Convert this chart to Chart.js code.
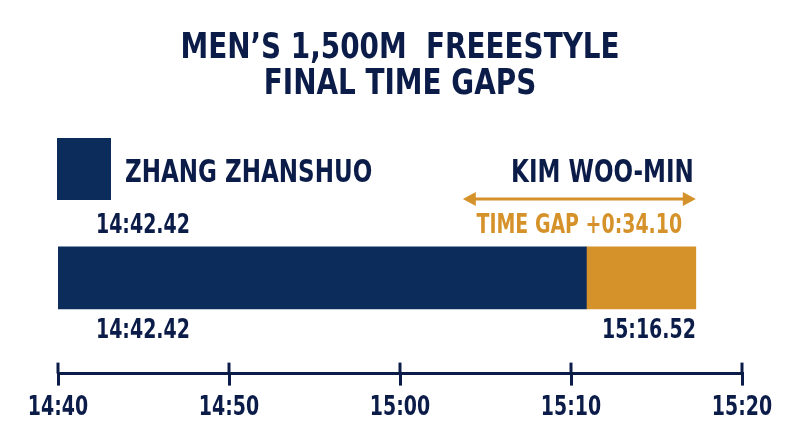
<!DOCTYPE html>
<html>
<head>
<meta charset="utf-8">
<script src="https://cdn.jsdelivr.net/npm/chart.js@4"></script>
<style>
  html, body { margin: 0; padding: 0; background: #ffffff; }
  #wrap { width: 800px; height: 447px; }
</style>
</head>
<body>
<div id="wrap"><canvas id="gapChart"></canvas></div>
<script>
// data (seconds since 0:00)
const tickLabels = ['14:40', '14:50', '15:00', '15:10', '15:20'];
const swimmers = ['ZHANG ZHANSHUO', 'KIM WOO-MIN'];
const finishLabels = ['14:42.42', '15:16.52'];
const gapLabel = 'TIME GAP +0:34.10';
const axisMin = 880;   // 14:40
const axisMax = 920;   // 15:20
const navyBar = [880, 910.9];
const goldBar = [910.9, 917.3];

const NAVY = '#0c2c5c';
const INK = '#0b1c48';
const GOLD = '#d6922a';
const FONT = "'DejaVu Sans Condensed', 'DejaVu Sans', sans-serif";

function fmt(sec) {
    const m = Math.floor(sec / 60);
    const s = Math.round(sec - m * 60);
    return m + ':' + (s < 10 ? '0' + s : s);
}

// no narrow heavy font installed: squeeze every text draw sideways
const canvas = document.getElementById('gapChart');
const ctx2d = canvas.getContext('2d');
const rawFillText = ctx2d.fillText;
ctx2d.fillText = function(text, x, y, maxW) {
    const m = /(\d+(?:\.\d+)?)px/.exec(this.font);
    const size = m ? +m[1] : 12;
    const k = size >= 34 ? 0.86 : (size >= 30 ? 0.8 : 0.78);
    this.save();
    this.translate(x, y);
    this.scale(k, 1);
    if (maxW !== undefined) rawFillText.call(this, text, 0, 0, maxW / k);
    else rawFillText.call(this, text, 0, 0);
    this.restore();
};

// labels, legend swatch, arrow and axis crosses
const annotate = {
    id: 'annotate',
    afterDraw(chart) {
        const ctx = chart.ctx;
        const x = chart.scales.x;
        const area = chart.chartArea;
        const end = x.getPixelForValue(goldBar[1]);
        ctx.save();

        // upper half of the axis ticks
        ctx.strokeStyle = INK;
        ctx.lineWidth = 3;
        x.ticks.forEach(t => {
            const px = x.getPixelForValue(t.value);
            ctx.beginPath();
            ctx.moveTo(px, area.bottom - 11);
            ctx.lineTo(px, area.bottom);
            ctx.stroke();
        });

        // legend swatch + names
        ctx.fillStyle = NAVY;
        ctx.fillRect(area.left - 1, 138, 54, 62);
        ctx.fillStyle = INK;
        ctx.font = 'bold 32px ' + FONT;
        ctx.textBaseline = 'alphabetic';
        ctx.textAlign = 'left';
        ctx.fillText(swimmers[0], 125, 182);
        ctx.textAlign = 'right';
        ctx.fillText(swimmers[1], end - 2, 182);

        // finish times
        ctx.font = 'bold 27px ' + FONT;
        ctx.textAlign = 'left';
        ctx.fillText(finishLabels[0], 96, 233);
        ctx.fillText(finishLabels[0], 96, 338);
        ctx.textAlign = 'right';
        ctx.fillText(finishLabels[1], end, 338);

        // gap arrow
        const aL = end - 233, aR = end, ay = 199;
        ctx.strokeStyle = GOLD;
        ctx.fillStyle = GOLD;
        ctx.lineWidth = 3;
        ctx.beginPath();
        ctx.moveTo(aL + 8, ay);
        ctx.lineTo(aR - 8, ay);
        ctx.stroke();
        ctx.beginPath();
        ctx.moveTo(aL, ay); ctx.lineTo(aL + 13, ay - 7); ctx.lineTo(aL + 13, ay + 7); ctx.closePath();
        ctx.fill();
        ctx.beginPath();
        ctx.moveTo(aR, ay); ctx.lineTo(aR - 13, ay - 7); ctx.lineTo(aR - 13, ay + 7); ctx.closePath();
        ctx.fill();

        ctx.textAlign = 'center';
        ctx.fillText(gapLabel, (aL + aR) / 2, 233);
        ctx.restore();
    }
};

new Chart(canvas, {
    type: 'bar',
    data: {
        labels: [''],
        datasets: [
            { label: swimmers[0], data: [navyBar], backgroundColor: NAVY, barThickness: 62, borderSkipped: false },
            { label: swimmers[1], data: [goldBar], backgroundColor: GOLD, barThickness: 62, borderSkipped: false }
        ]
    },
    options: {
        indexAxis: 'y',
        responsive: true,
        maintainAspectRatio: false,
        animation: false,
        layout: { padding: { left: 58, right: 58, top: 0, bottom: 17 } },
        scales: {
            x: {
                min: axisMin,
                max: axisMax,
                border: { display: true, color: INK, width: 3 },
                grid: { display: true, drawOnChartArea: false, drawTicks: true, tickLength: 12, lineWidth: 3, color: INK },
                ticks: {
                    stepSize: 10,
                    padding: 6,
                    maxRotation: 0,
                    autoSkip: false,
                    color: INK,
                    font: { family: FONT, size: 27, weight: 'bold' },
                    callback: (v, i) => tickLabels[i] || fmt(v)
                }
            },
            y: { display: false, stacked: true }
        },
        plugins: {
            legend: { display: false },
            tooltip: { enabled: false },
            title: {
                display: true,
                text: ["MEN\u2019S 1,500M  FREEESTYLE", 'FINAL TIME GAPS'],
                color: INK,
                font: { family: FONT, size: 36, weight: 'bold', lineHeight: 1.0 },
                padding: { top: 31, bottom: 79 }
            }
        }
    },
    plugins: [annotate]
});
</script>
</body>
</html>
